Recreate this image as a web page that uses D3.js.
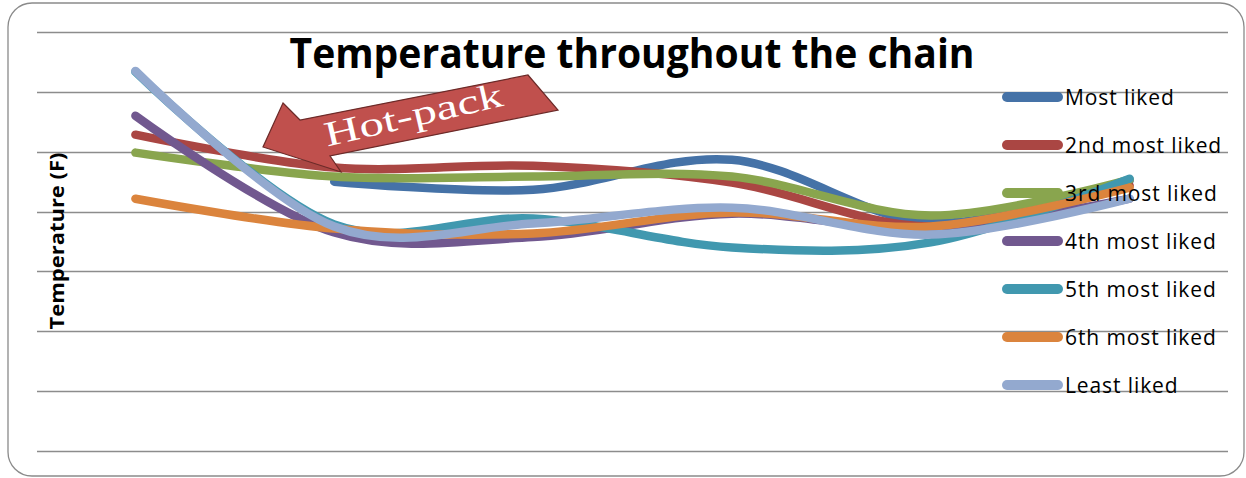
<!DOCTYPE html>
<html>
<head>
<meta charset="utf-8">
<script src="https://cdn.jsdelivr.net/npm/d3@7"></script>
<style>
  body { margin: 0; background: #fff; }
  svg { display: block; }
</style>
</head>
<body>
<div id="vis"></div>
<script>
// chart data (temperature in F, 6 points along the chain)
var categories = ['1', '2', '3', '4', '5', '6'];
var seriesNames = ['Most liked', '2nd most liked', '3rd most liked', '4th most liked',
                   '5th most liked', '6th most liked', 'Least liked'];
var mostLiked   = [null, 90, 87.3, 97.3, 76.3, 90.3];
var secondLiked = [105.7, 94.7, 95.3, 89.7, 75, 88.7];
var thirdLiked  = [99.7, 91.7, 91.7, 91.7, 78.7, 90.7];
var fourthLiked = [112, 73, 71.5, 79.3, 74.3, 84.3];
var fifthLiked  = [126.7, 75.7, 77.7, 68, 69.7, 91];
var sixthLiked  = [84.3, 74.3, 72.7, 79.7, 75, 88];
var leastLiked  = [127, 75, 76, 81.3, 72.3, 84.3];
var yTicks = [0, 20, 40, 60, 80, 100, 120, 140];

var colours = ['#4572A7', '#AA4643', '#89A54E', '#71588F', '#4198AF', '#DB843D', '#93A9CF'];
var allSeries = [mostLiked, secondLiked, thirdLiked, fourthLiked, fifthLiked, sixthLiked, leastLiked];

var width = 1246, height = 478;
var plot = { left: 36, right: 1229, top: 32, bottom: 451 };

var svg = d3.select('#vis').append('svg')
  .attr('width', width)
  .attr('height', height);

// rounded frame round the chart
svg.append('rect')
  .attr('x', 8).attr('y', 3)
  .attr('width', 1236).attr('height', 473)
  .attr('rx', 24).attr('ry', 24)
  .attr('fill', '#fff')
  .attr('stroke', '#8a8a8a')
  .attr('stroke-width', 1.3);

var x = d3.scalePoint()
  .domain(categories)
  .range([plot.left, plot.right])
  .padding(0.5);

var y = d3.scaleLinear()
  .domain([0, 140])
  .range([plot.bottom, plot.top]);

// horizontal gridlines
svg.append('g')
  .selectAll('line')
  .data(yTicks)
  .enter().append('line')
  .attr('x1', plot.left + 1)
  .attr('x2', plot.right - 1)
  .attr('y1', function (d) { return Math.round(y(d)) + 0.5; })
  .attr('y2', function (d) { return Math.round(y(d)) + 0.5; })
  .attr('stroke', '#8c8c8c')
  .attr('stroke-width', 1.6);

// title
svg.append('text')
  .attr('x', 632)
  .attr('y', 68)
  .attr('text-anchor', 'middle')
  .attr('font-family', '"Open Sans", sans-serif')
  .attr('font-weight', 'bold')
  .attr('font-size', 42)
  .attr('textLength', 685)
  .attr('lengthAdjust', 'spacingAndGlyphs')
  .text('Temperature throughout the chain');

// y axis title
svg.append('text')
  .attr('transform', 'translate(64,241) rotate(-90)')
  .attr('text-anchor', 'middle')
  .attr('font-family', '"Open Sans", sans-serif')
  .attr('font-weight', 'bold')
  .attr('font-size', 19.5)
  .attr('textLength', 177)
  .attr('lengthAdjust', 'spacingAndGlyphs')
  .text('Temperature (F)');

// smoothed lines, like excel's smooth line option
var line = d3.line()
  .defined(function (d) { return d != null; })
  .x(function (d, i) { return x(categories[i]); })
  .y(function (d) { return y(d); })
  .curve(d3.curveCardinal.tension(0));

svg.append('g')
  .selectAll('path')
  .data(allSeries)
  .enter().append('path')
  .attr('d', line)
  .attr('fill', 'none')
  .attr('stroke', function (d, i) { return colours[i]; })
  .attr('stroke-width', 8.5)
  .attr('stroke-linecap', 'round')
  .attr('stroke-linejoin', 'round');

// legend
var legend = svg.append('g')
  .selectAll('g')
  .data(seriesNames)
  .enter().append('g')
  .attr('transform', function (d, i) { return 'translate(1003,' + (97 + i * 48) + ')'; });

legend.append('line')
  .attr('x1', 4).attr('x2', 55)
  .attr('stroke', function (d, i) { return colours[i]; })
  .attr('stroke-width', 10)
  .attr('stroke-linecap', 'round');

legend.append('text')
  .attr('x', 62)
  .attr('y', 7.5)
  .attr('font-family', '"Open Sans", sans-serif')
  .attr('font-size', 21)
  .attr('letter-spacing', 0.9)
  .attr('fill', '#000')
  .text(function (d) { return d; });

// hot-pack callout arrow
var arrow = svg.append('g');
arrow.append('polygon')
  .attr('points', '283,103 300,120 528,75 558,110 330,156 341,172 263,147')
  .attr('fill', '#C0504D')
  .attr('stroke', '#6b2a28')
  .attr('stroke-width', 1.2)
  .attr('stroke-linejoin', 'miter');

arrow.append('text')
  .attr('transform', 'translate(416,126) rotate(-13)')
  .attr('text-anchor', 'middle')
  .attr('font-family', '"Liberation Serif", "DejaVu Serif", serif')
  .attr('font-size', 35)
  .attr('fill', '#fff')
  .attr('textLength', 182)
  .attr('lengthAdjust', 'spacingAndGlyphs')
  .text('Hot-pack');
</script>
</body>
</html>
